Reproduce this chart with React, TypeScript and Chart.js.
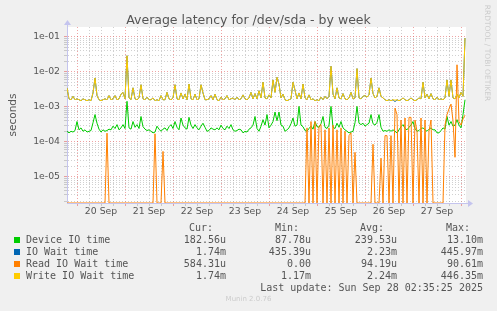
import React, { useEffect, useRef } from 'react';
import { Chart, registerables } from 'chart.js';

Chart.register(...registerables);

// Time axis: hourly samples, hours relative to 20 Sep 00:00
const START_HOUR = -5;
const END_HOUR = 194.5;
const FIRST_DAY = 20;
const MONTH = 'Sep';

const deviceIO: number[] = [
  2.0e-4, 1.8e-4, 2.0e-4, 1.9e-4, 2.1e-4, 3.8e-4, 2.2e-4, 2.5e-4, 2.0e-4, 2.2e-4,
  1.9e-4, 2.0e-4, 2.1e-4, 3.5e-4, 6.0e-4, 3.4e-4, 2.3e-4, 1.9e-4, 2.2e-4, 2.0e-4,
  2.1e-4, 2.3e-4, 2.2e-4, 2.8e-4, 2.4e-4, 3.1e-4, 2.2e-4, 2.5e-4, 3.1e-4, 2.4e-4,
  1.44e-3, 2.5e-4, 2.3e-4, 3.8e-4, 2.6e-4, 3.1e-4, 2.4e-4, 5.3e-4, 2.7e-4, 2.3e-4,
  2.1e-4, 2.2e-4, 2.0e-4, 1.8e-4, 1.9e-4, 2.8e-4, 2.3e-4, 2.0e-4, 2.3e-4, 2.5e-4,
  2.1e-4, 2.7e-4, 3.1e-4, 2.4e-4, 3.8e-4, 2.6e-4, 2.2e-4, 4.8e-4, 3.0e-4, 2.5e-4,
  2.3e-4, 5.0e-4, 3.0e-4, 2.4e-4, 3.1e-4, 2.5e-4, 2.2e-4, 2.8e-4, 3.4e-4, 2.6e-4,
  2.0e-4, 2.1e-4, 2.5e-4, 2.3e-4, 2.2e-4, 2.5e-4, 2.2e-4, 3.0e-4, 2.4e-4, 2.2e-4,
  2.8e-4, 2.4e-4, 3.1e-4, 2.2e-4, 2.0e-4, 2.1e-4, 2.3e-4, 2.2e-4, 1.8e-4, 2.0e-4,
  1.9e-4, 2.3e-4, 2.5e-4, 3.0e-4, 5.3e-4, 2.4e-4, 2.0e-4, 2.8e-4, 4.3e-4, 3.0e-4,
  6.0e-4, 2.5e-4, 3.0e-4, 3.8e-4, 7.1e-4, 4.0e-4, 7.1e-4, 3.0e-4, 2.8e-4, 2.0e-4,
  2.2e-4, 2.5e-4, 3.3e-4, 4.8e-4, 2.8e-4, 3.0e-4, 1.03e-3, 3.0e-4, 2.7e-4, 2.1e-4,
  2.0e-4, 2.4e-4, 2.8e-4, 2.3e-4, 3.8e-4, 2.7e-4, 2.6e-4, 3.3e-4, 5.3e-4, 2.6e-4,
  2.4e-4, 3.0e-4, 1.03e-3, 2.6e-4, 2.4e-4, 3.4e-4, 2.6e-4, 3.8e-4, 2.5e-4, 2.2e-4,
  2.0e-4, 1.8e-4, 1.9e-4, 2.0e-4, 3.5e-4, 1.03e-3, 3.4e-4, 3.1e-4, 3.4e-4, 2.8e-4,
  3.1e-4, 3.4e-4, 6.0e-4, 3.3e-4, 3.0e-4, 3.6e-4, 6.0e-4, 2.6e-4, 2.0e-4, 2.1e-4,
  2.0e-4, 2.2e-4, 2.0e-4, 2.2e-4, 2.0e-4, 1.8e-4, 2.2e-4, 2.7e-4, 3.1e-4, 2.4e-4,
  2.2e-4, 2.6e-4, 3.0e-4, 3.8e-4, 2.4e-4, 2.0e-4, 2.1e-4, 2.4e-4, 2.5e-4, 2.2e-4,
  2.0e-4, 2.3e-4, 2.5e-4, 2.2e-4, 2.2e-4, 1.8e-4, 1.8e-4, 2.1e-4, 2.5e-4, 2.3e-4,
  5.3e-4, 3.0e-4, 3.8e-4, 2.8e-4, 3.0e-4, 4.3e-4, 3.0e-4, 2.5e-4, 6.0e-4, 1.6e-3,
];

const ioWait: number[] = [
  3.5e-3, 1.7e-3, 1.6e-3, 2.0e-3, 1.6e-3, 1.7e-3, 1.6e-3, 1.5e-3, 1.7e-3, 1.6e-3,
  1.5e-3, 1.6e-3, 1.5e-3, 2.5e-3, 6.7e-3, 2.1e-3, 1.6e-3, 1.5e-3, 1.6e-3, 1.7e-3,
  1.6e-3, 2.1e-3, 1.6e-3, 1.7e-3, 2.1e-3, 1.6e-3, 1.7e-3, 2.3e-3, 2.6e-3, 1.7e-3,
  2.9e-2, 1.8e-3, 1.6e-3, 3.5e-3, 1.7e-3, 1.6e-3, 1.8e-3, 4.3e-3, 1.7e-3, 1.6e-3,
  1.9e-3, 1.6e-3, 1.6e-3, 1.8e-3, 1.5e-3, 1.6e-3, 1.5e-3, 2.1e-3, 1.6e-3, 1.6e-3,
  2.6e-3, 1.7e-3, 1.6e-3, 1.8e-3, 4.3e-3, 1.7e-3, 1.6e-3, 2.5e-3, 1.7e-3, 2.3e-3,
  1.6e-3, 4.5e-3, 1.7e-3, 1.6e-3, 2.3e-3, 1.6e-3, 1.7e-3, 4.3e-3, 2.5e-3, 1.6e-3,
  1.6e-3, 1.7e-3, 2.1e-3, 1.6e-3, 2.3e-3, 1.6e-3, 1.5e-3, 1.9e-3, 1.6e-3, 1.7e-3,
  2.1e-3, 1.6e-3, 1.7e-3, 1.8e-3, 1.6e-3, 1.9e-3, 1.6e-3, 1.7e-3, 2.2e-3, 1.7e-3,
  1.6e-3, 1.8e-3, 2.6e-3, 1.7e-3, 2.4e-3, 1.7e-3, 2.9e-3, 1.8e-3, 5.1e-3, 1.8e-3,
  1.7e-3, 2.2e-3, 1.8e-3, 5.9e-3, 2.6e-3, 7.0e-3, 4.5e-3, 1.8e-3, 2.3e-3, 1.6e-3,
  1.5e-3, 1.6e-3, 1.7e-3, 5.1e-3, 3.0e-3, 1.7e-3, 2.5e-3, 1.7e-3, 4.5e-3, 1.8e-3,
  1.6e-3, 2.2e-3, 1.6e-3, 1.7e-3, 1.5e-3, 1.6e-3, 1.5e-3, 1.9e-3, 1.6e-3, 2.0e-3,
  1.7e-3, 2.0e-3, 1.45e-2, 2.3e-3, 1.7e-3, 3.5e-3, 1.8e-3, 1.7e-3, 2.4e-3, 1.7e-3,
  1.6e-3, 1.8e-3, 2.6e-3, 1.7e-3, 1.8e-3, 1.24e-2, 1.8e-3, 1.7e-3, 2.0e-3, 2.1e-3,
  1.9e-3, 2.2e-3, 6.7e-3, 2.4e-3, 1.8e-3, 2.0e-3, 3.5e-3, 2.0e-3, 1.8e-3, 1.6e-3,
  1.5e-3, 1.6e-3, 1.5e-3, 1.6e-3, 1.4e-3, 1.6e-3, 1.5e-3, 1.6e-3, 1.8e-3, 1.6e-3,
  1.5e-3, 1.6e-3, 1.8e-3, 1.6e-3, 1.5e-3, 1.6e-3, 1.8e-3, 1.7e-3, 5.1e-3, 1.8e-3,
  2.3e-3, 1.7e-3, 2.4e-3, 1.7e-3, 1.6e-3, 1.9e-3, 1.6e-3, 1.7e-3, 1.6e-3, 1.8e-3,
  5.9e-3, 2.0e-3, 5.9e-3, 1.8e-3, 1.7e-3, 2.3e-3, 1.8e-3, 2.6e-3, 2.0e-3, 9.3e-2,
];

const readWait: number[] = [
  0, 0, 0, 0, 0, 0, 0, 0, 0, 0,
  0, 0, 0, 0, 0, 0, 0, 0, 0, 0,
  1.77e-4, 0, 0, 0, 0, 0, 0, 0, 0, 0,
  0, 0, 0, 0, 0, 0, 0, 0, 0, 0,
  0, 0, 0, 0, 1.7e-4, 0, 0, 0, 5.3e-5, 0,
  0, 0, 0, 0, 0, 0, 0, 0, 0, 0,
  0, 0, 0, 0, 0, 0, 0, 0, 0, 0,
  0, 0, 0, 0, 0, 0, 0, 0, 0, 0,
  0, 0, 0, 0, 0, 0, 0, 0, 0, 0,
  0, 0, 0, 0, 0, 0, 0, 0, 0, 0,
  0, 0, 0, 0, 0, 0, 0, 0, 0, 0,
  0, 0, 0, 0, 0, 0, 0, 0, 0, 0,
  2.5e-4, 0, 3.8e-4, 0, 3.8e-4, 0, 2.8e-4, 3.1e-4, 0, 2.2e-4,
  0, 2.5e-4, 0, 3.0e-4, 0, 2.2e-4, 0, 2.5e-4, 0, 2.0e-4,
  0, 1.5e-4, 1.8e-4, 0, 5.0e-5, 0, 0, 0, 0, 0,
  0, 0, 0, 8.5e-5, 0, 0, 0, 3.4e-5, 0, 1.5e-4,
  1.5e-4, 0, 1.5e-4, 0, 9.2e-4, 6.0e-4, 0, 4.2e-4, 0, 4.8e-4,
  0, 5.0e-4, 5.0e-4, 0, 4.2e-4, 2.0e-4, 0, 4.8e-4, 0, 4.2e-4,
  0, 2.0e-4, 4.2e-4, 0, 0, 0, 0, 0, 0, 3.0e-4,
  6.0e-4, 8.8e-4, 1.2e-3, 4.0e-4, 3.6e-5, 1.6e-2, 3.8e-4, 3.0e-4, 4.5e-4, 5.8e-4,
];

const writeWait: number[] = [
  3.5e-3, 1.7e-3, 1.6e-3, 2.0e-3, 1.6e-3, 1.7e-3, 1.6e-3, 1.5e-3, 1.7e-3, 1.6e-3,
  1.5e-3, 1.6e-3, 1.5e-3, 2.5e-3, 6.7e-3, 2.1e-3, 1.6e-3, 1.5e-3, 1.6e-3, 1.7e-3,
  1.6e-3, 2.1e-3, 1.6e-3, 1.7e-3, 2.1e-3, 1.6e-3, 1.7e-3, 2.3e-3, 2.6e-3, 1.7e-3,
  2.9e-2, 1.8e-3, 1.6e-3, 3.5e-3, 1.7e-3, 1.6e-3, 1.8e-3, 4.3e-3, 1.7e-3, 1.6e-3,
  1.9e-3, 1.6e-3, 1.6e-3, 1.8e-3, 1.5e-3, 1.6e-3, 1.5e-3, 2.1e-3, 1.6e-3, 1.6e-3,
  2.6e-3, 1.7e-3, 1.6e-3, 1.8e-3, 4.3e-3, 1.7e-3, 1.6e-3, 2.5e-3, 1.7e-3, 2.3e-3,
  1.6e-3, 4.5e-3, 1.7e-3, 1.6e-3, 2.3e-3, 1.6e-3, 1.7e-3, 4.3e-3, 2.5e-3, 1.6e-3,
  1.6e-3, 1.7e-3, 2.1e-3, 1.6e-3, 2.3e-3, 1.6e-3, 1.5e-3, 1.9e-3, 1.6e-3, 1.7e-3,
  2.1e-3, 1.6e-3, 1.7e-3, 1.8e-3, 1.6e-3, 1.9e-3, 1.6e-3, 1.7e-3, 2.2e-3, 1.7e-3,
  1.6e-3, 1.8e-3, 2.6e-3, 1.7e-3, 2.4e-3, 1.7e-3, 2.9e-3, 1.8e-3, 5.1e-3, 1.8e-3,
  1.7e-3, 2.2e-3, 1.8e-3, 5.9e-3, 2.6e-3, 7.0e-3, 4.5e-3, 1.8e-3, 2.3e-3, 1.6e-3,
  1.5e-3, 1.6e-3, 1.7e-3, 5.1e-3, 3.0e-3, 1.7e-3, 2.5e-3, 1.7e-3, 4.5e-3, 1.8e-3,
  1.6e-3, 2.2e-3, 1.6e-3, 1.7e-3, 1.5e-3, 1.6e-3, 1.5e-3, 1.9e-3, 1.6e-3, 2.0e-3,
  1.7e-3, 2.0e-3, 1.45e-2, 2.3e-3, 1.7e-3, 3.5e-3, 1.8e-3, 1.7e-3, 2.4e-3, 1.7e-3,
  1.6e-3, 1.8e-3, 2.6e-3, 1.7e-3, 1.8e-3, 1.24e-2, 1.8e-3, 1.7e-3, 2.0e-3, 2.1e-3,
  1.9e-3, 2.2e-3, 6.7e-3, 2.4e-3, 1.8e-3, 2.0e-3, 3.5e-3, 2.0e-3, 1.8e-3, 1.6e-3,
  1.5e-3, 1.6e-3, 1.5e-3, 1.6e-3, 1.55e-3, 1.6e-3, 1.5e-3, 1.6e-3, 1.8e-3, 1.6e-3,
  1.5e-3, 1.6e-3, 1.8e-3, 1.6e-3, 1.5e-3, 1.6e-3, 1.8e-3, 1.7e-3, 5.1e-3, 1.8e-3,
  2.3e-3, 1.7e-3, 2.4e-3, 1.7e-3, 1.6e-3, 1.9e-3, 1.6e-3, 1.7e-3, 1.6e-3, 1.8e-3,
  5.9e-3, 2.0e-3, 5.9e-3, 1.8e-3, 1.7e-3, 2.3e-3, 1.8e-3, 2.6e-3, 2.0e-3, 9.3e-2,
];

const hours: number[] = deviceIO.map((_, i) => START_HOUR + i);

const seriesNames = ['Device IO time', 'IO Wait time', 'Read IO Wait time', 'Write IO Wait time'];
const seriesColors = ['#00cc00', '#0066b3', '#ff8000', '#ffcc00'];
const curValues = ['182.56u', '1.74m', '584.31u', '1.74m'];
const minValues = ['87.78u', '435.39u', '0.00', '1.17m'];
const avgValues = ['239.53u', '2.23m', '94.19u', '2.24m'];
const maxValues = ['13.10m', '445.97m', '90.61m', '446.35m'];
const columnHeaders = ['Cur:', 'Min:', 'Avg:', 'Max:'];

const Y_MIN = 1.77e-6;
const Y_MAX = 0.193;

const MAJOR_GRID = 'rgba(225, 90, 90, 0.55)';
const MINOR_GRID = 'rgba(150, 150, 150, 0.45)';
const AXIS_COLOR = '#c4c4ee';
const TEXT_COLOR = '#555555';

const isDecade = (v: number) => Math.abs(Math.log10(v) - Math.round(Math.log10(v))) < 1e-6;

const bgPlugin = {
  id: 'muninBg',
  beforeDraw(chart: any) {
    const { ctx, chartArea } = chart;
    ctx.save();
    ctx.fillStyle = '#ffffff';
    ctx.fillRect(chartArea.left, chartArea.top, chartArea.right - chartArea.left, chartArea.bottom - chartArea.top);
    ctx.restore();
  },
  afterDraw(chart: any) {
    const { ctx, chartArea } = chart;
    const { left, top, right, bottom } = chartArea;
    ctx.save();
    ctx.fillStyle = AXIS_COLOR;
    ctx.strokeStyle = AXIS_COLOR;
    ctx.lineWidth = 1;
    ctx.beginPath();
    ctx.moveTo(left + 0.5, top);
    ctx.lineTo(left + 0.5, top - 3);
    ctx.stroke();
    ctx.beginPath();
    ctx.moveTo(left - 3, top - 2);
    ctx.lineTo(left + 4, top - 2);
    ctx.lineTo(left + 0.5, top - 7);
    ctx.closePath();
    ctx.fill();
    ctx.beginPath();
    ctx.moveTo(right, bottom + 0.5);
    ctx.lineTo(right + 3, bottom + 0.5);
    ctx.stroke();
    ctx.beginPath();
    ctx.moveTo(right + 2, bottom - 3);
    ctx.lineTo(right + 2, bottom + 4);
    ctx.lineTo(right + 7, bottom + 0.5);
    ctx.closePath();
    ctx.fill();
    ctx.restore();
  },
};

// On a log axis a zero sample is drawn on the axis floor (as RRDtool does)
function series(values: number[]) {
  return values.map((v, i) => ({ x: hours[i], y: v > 0 ? v : Y_MIN }));
}

export default function App() {
  const ref = useRef<HTMLCanvasElement>(null);

  useEffect(() => {
    const canvas = ref.current;
    if (!canvas) return;
    const tickFont = { family: 'DejaVu Sans', size: 9.3 };
    const chart = new Chart(canvas, {
      type: 'line',
      data: {
        datasets: [
          { label: seriesNames[0], data: series(deviceIO), borderColor: seriesColors[0], order: 3 },
          { label: seriesNames[1], data: series(ioWait), borderColor: seriesColors[1], order: 2 },
          { label: seriesNames[2], data: series(readWait), borderColor: seriesColors[2], order: 1 },
          { label: seriesNames[3], data: series(writeWait), borderColor: seriesColors[3], order: 0 },
        ].map((d) => ({ ...d, borderWidth: 1, pointRadius: 0, fill: false, tension: 0 })) as any,
      },
      options: {
        responsive: false,
        animation: false,
        devicePixelRatio: 1,
        layout: { padding: { left: 0, right: 31, top: 27, bottom: 88 } },
        plugins: { legend: { display: false }, tooltip: { enabled: false }, title: { display: false } },
        scales: {
          x: {
            type: 'linear',
            min: START_HOUR,
            max: END_HOUR,
            bounds: 'data',
            afterFit: (s: any) => { s.height = 20; },
            afterBuildTicks: (s: any) => {
              const t = [];
              for (let h = 0; h <= END_HOUR; h += 6) t.push({ value: h });
              s.ticks = t;
            },
            ticks: {
              autoSkip: false,
              maxRotation: 0,
              padding: 0,
              color: TEXT_COLOR,
              font: tickFont,
              callback: (v: any) => (v % 24 === 12 ? `${FIRST_DAY + Math.floor(v / 24)} ${MONTH}` : ''),
            },
            grid: {
              color: (c: any) => (c.tick && c.tick.value % 24 === 0 ? MAJOR_GRID : MINOR_GRID),
              tickColor: (c: any) => (c.tick && c.tick.value % 24 === 0 ? MAJOR_GRID : MINOR_GRID),
              tickLength: 3,
              lineWidth: 1,
            },
            border: { display: true, color: AXIS_COLOR, width: 1, dash: [1, 2] },
          },
          y: {
            type: 'logarithmic',
            min: Y_MIN,
            max: Y_MAX,
            bounds: 'data',
            afterFit: (s: any) => { s.width = 67; },
            afterBuildTicks: (s: any) => {
              const t = [];
              for (let e = -7; e <= 0; e++) {
                for (let m = 1; m <= 9; m++) {
                  const v = m * Math.pow(10, e);
                  if (v >= Y_MIN && v <= Y_MAX) t.push({ value: v });
                }
              }
              s.ticks = t;
            },
            ticks: {
              autoSkip: false,
              padding: 4,
              color: TEXT_COLOR,
              font: tickFont,
              callback: (v: any) => {
                if (!isDecade(v)) return '';
                const e = Math.round(Math.log10(v));
                return `1e${e < 0 ? '-' : '+'}${String(Math.abs(e)).padStart(2, '0')}`;
              },
            },
            grid: {
              color: (c: any) => (c.tick && isDecade(c.tick.value) ? MAJOR_GRID : MINOR_GRID),
              tickColor: (c: any) => (c.tick && isDecade(c.tick.value) ? MAJOR_GRID : MINOR_GRID),
              tickLength: 3,
              lineWidth: 1,
            },
            border: { display: true, color: AXIS_COLOR, width: 1, dash: [1, 2] },
          },
        },
      } as any,
      plugins: [bgPlugin],
    });
    return () => chart.destroy();
  }, []);

  const mono: React.CSSProperties = {
    position: 'absolute',
    fontFamily: '"DejaVu Sans Mono", monospace',
    fontSize: 10,
    lineHeight: '12px',
    color: TEXT_COLOR,
    whiteSpace: 'pre',
  };
  const colRights = [226, 311, 397, 483];
  const headerRights = [213, 299, 384, 470];
  const rowTops = [234, 246, 258, 270];

  return (
    <div style={{ position: 'fixed', left: 0, top: 0, width: 497, height: 311, background: '#f0f0f0', overflow: 'hidden' }}>
      <canvas ref={ref} width={497} height={311} style={{ position: 'absolute', left: 0, top: 0, width: 497, height: 311 }} />
      <div style={{ position: 'absolute', left: 0, width: 497, top: 12, textAlign: 'center', fontFamily: '"DejaVu Sans", sans-serif', fontSize: 12.5, lineHeight: '15px', color: TEXT_COLOR, whiteSpace: 'pre' }}>
        Average latency for /dev/sda - by week
      </div>
      <div style={{ position: 'absolute', left: 12 - 40, top: 115 - 7, width: 80, height: 14, textAlign: 'center', fontFamily: '"DejaVu Sans", sans-serif', fontSize: 10.5, lineHeight: '14px', color: TEXT_COLOR, transform: 'rotate(-90deg)' }}>
        seconds
      </div>
      <div style={{ position: 'absolute', left: 487 - 60, top: 53 - 6, width: 120, height: 12, textAlign: 'center', fontFamily: '"DejaVu Sans", sans-serif', fontSize: 7.5, lineHeight: '12px', color: '#cccccc', transform: 'rotate(90deg)', whiteSpace: 'pre' }}>
        RRDTOOL / TOBI OETIKER
      </div>
      {columnHeaders.map((h, j) => (
        <div key={h} style={{ ...mono, top: 222, right: 497 - headerRights[j] }}>{h}</div>
      ))}
      {seriesNames.map((name, i) => (
        <React.Fragment key={name}>
          <div style={{ position: 'absolute', left: 14, top: rowTops[i] + 3, width: 6, height: 6, background: seriesColors[i] }} />
          <div style={{ ...mono, left: 26, top: rowTops[i] }}>{name}</div>
          <div style={{ ...mono, top: rowTops[i], right: 497 - colRights[0] }}>{curValues[i]}</div>
          <div style={{ ...mono, top: rowTops[i], right: 497 - colRights[1] }}>{minValues[i]}</div>
          <div style={{ ...mono, top: rowTops[i], right: 497 - colRights[2] }}>{avgValues[i]}</div>
          <div style={{ ...mono, top: rowTops[i], right: 497 - colRights[3] }}>{maxValues[i]}</div>
        </React.Fragment>
      ))}
      <div style={{ ...mono, top: 282, right: 497 - 483 }}>Last update: Sun Sep 28 02:35:25 2025</div>
      <div style={{ position: 'absolute', left: 0, width: 497, top: 294, textAlign: 'center', fontFamily: '"DejaVu Sans", sans-serif', fontSize: 7, lineHeight: '10px', color: '#cccccc' }}>
        Munin 2.0.76
      </div>
    </div>
  );
}
